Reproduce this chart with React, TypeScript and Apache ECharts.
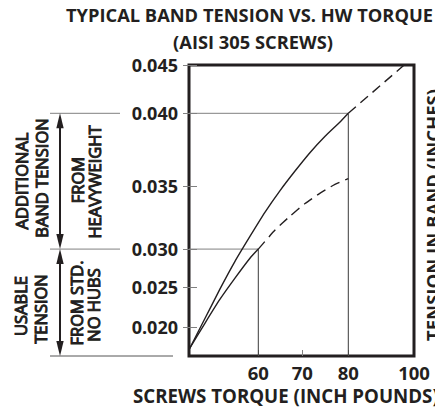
import React, { useEffect, useRef } from "react";
import * as echarts from "echarts";

// ---------- data ----------
const xTicks = [60, 70, 80, 100];
const xTickLabels = ["60", "70", "80", "100"];
const xSmallTicks = [60, 70, 80];
const yTicks = [0.02, 0.025, 0.03, 0.035, 0.04, 0.045];
const yTickLabels = ["0.020", "0.025", "0.030", "0.035", "0.040", "0.045"];
const xOrigin = 44.25;
const yOrigin = 0.01635;

// heavyweight band (upper curve)
const heavyX = [44.4, 47.9, 51.3, 54.7, 58.1, 61.5, 64.9, 68.3, 71.7, 74.9, 78.2, 80];
const heavyY = [0.0173, 0.0211, 0.0248, 0.0284, 0.031, 0.0329, 0.0346, 0.036, 0.0373, 0.0384, 0.0394, 0.04];
const heavyExtX = [80, 97];
const heavyExtY = [0.04, 0.045];
// standard, no hubs (lower curve)
const stdX = [44.4, 47.9, 51.3, 54.7, 58.1, 60];
const stdY = [0.0173, 0.0205, 0.0235, 0.0262, 0.0288, 0.03];
const stdExtX = [60, 63.8, 67.2, 70.6, 73.8, 77.1, 80];
const stdExtY = [0.03, 0.0315, 0.0326, 0.0336, 0.0344, 0.0351, 0.0355];

const usableTension = 0.03;
const heavyTension = 0.04;
const usableTorque = 60;
const heavyTorque = 80;

// ---------- layout: the drawn axes are not linear, breakpoints as plot fractions ----------
const X_BREAK_VALUES = [xOrigin, 60, 70, 80, 100];
const X_BREAK_POS = [0, 0.308, 0.5036, 0.708, 1];
const Y_BREAK_VALUES = [yOrigin, 0.02, 0.025, 0.03, 0.035, 0.04, 0.045];
const Y_BREAK_POS = [0, 0.0997, 0.2361, 0.3674, 0.5849, 0.834, 1];

function piece(v: number, vals: number[], pos: number[]) {
  const n = vals.length;
  let i = 0;
  while (i < n - 2 && v > vals[i + 1]) i++;
  const t = (v - vals[i]) / (vals[i + 1] - vals[i]);
  return pos[i] + t * (pos[i + 1] - pos[i]);
}
const sx = (v: number) => piece(v, X_BREAK_VALUES, X_BREAK_POS);
const sy = (v: number) => piece(v, Y_BREAK_VALUES, Y_BREAK_POS);
const pts = (xs: number[], ys: number[]) => xs.map((x, i) => [sx(x), sy(ys[i])]);

const INK = "#231f20";
const FONT = "'Open Sans', 'Noto Sans', sans-serif";

function labelFor(val: number, ticks: number[], labels: string[], f: (v: number) => number) {
  const i = ticks.findIndex((t) => Math.abs(f(t) - val) < 1e-6);
  return i >= 0 ? labels[i] : "";
}

export default function App() {
  const ref = useRef<HTMLDivElement>(null);
  useEffect(() => {
    if (!ref.current) return;
    const chart = echarts.init(ref.current, null, { renderer: "svg" });
    const lineS = (data: number[][], color: string, width: number, type: any = "solid", smooth: any = false) => ({
      type: "line",
      data,
      showSymbol: false,
      symbol: "none",
      smooth,
      lineStyle: { color, width, type },
      silent: true,
    });
    chart.setOption({
      animation: false,
      grid: {
        left: 189,
        top: 65,
        width: 225,
        height: 291,
        show: true,
        borderColor: INK,
        borderWidth: 3,
        backgroundColor: "transparent",
      },
      xAxis: {
        type: "value",
        min: 0,
        max: 1,
        axisLine: { show: false },
        splitLine: { show: false },
        axisTick: {
          show: true,
          inside: true,
          length: 6,
          customValues: xSmallTicks.map(sx),
          lineStyle: { color: "#808080", width: 1 },
        },
        axisLabel: {
          customValues: xTicks.map(sx),
          formatter: (v: number) => labelFor(v, xTicks, xTickLabels, sx),
          margin: 7,
          color: INK,
          fontFamily: FONT,
          fontWeight: "bold",
          fontSize: 18.5,
          lineHeight: 18,
        },
      },
      yAxis: [
        {
          type: "value",
          position: "left",
          min: 0,
          max: 1,
          axisLine: { show: false },
          splitLine: { show: false },
          axisTick: {
            show: true,
            inside: false,
            length: 6,
            customValues: yTicks.map(sy),
            lineStyle: { color: "#808080", width: 1 },
          },
          axisLabel: {
            customValues: yTicks.map(sy),
            formatter: (v: number) => labelFor(v, yTicks, yTickLabels, sy),
            margin: 11,
            color: INK,
            fontFamily: FONT,
            fontWeight: "bold",
            fontSize: 18,
          },
        },
        {
          type: "value",
          position: "left",
          min: 0,
          max: 1,
          axisLine: { show: false },
          splitLine: { show: false },
          axisTick: {
            show: true,
            inside: true,
            length: 8,
            customValues: yTicks.map(sy),
            lineStyle: { color: "#808080", width: 1 },
          },
          axisLabel: { show: false },
        },
      ],
      series: [
        lineS(pts([xOrigin, heavyTorque], [heavyTension, heavyTension]), "#808080", 1),
        lineS(pts([xOrigin, usableTorque], [usableTension, usableTension]), "#808080", 1),
        lineS(pts([heavyTorque, heavyTorque], [heavyTension, yOrigin]), "#3a3a3a", 1),
        lineS(pts([usableTorque, usableTorque], [usableTension, yOrigin]), "#3a3a3a", 1),
        lineS(pts(heavyX, heavyY), INK, 1.4, "solid", 0.15),
        lineS(pts(heavyExtX, heavyExtY), INK, 1.4, [10, 6]),
        lineS(pts(stdX, stdY), INK, 1.4, "solid", 0.15),
        lineS(pts(stdExtX, stdExtY), INK, 1.4, [10, 6], 0.15),
      ],
    });

    const y40 = chart.convertToPixel({ gridIndex: 0 }, [sx(xOrigin), sy(heavyTension)])[1];
    const y30 = chart.convertToPixel({ gridIndex: 0 }, [sx(xOrigin), sy(usableTension)])[1];
    const yBot = chart.convertToPixel({ gridIndex: 0 }, [sx(xOrigin), sy(yOrigin)])[1];

    const ax = 60;
    const ah = 15;
    const aw = 3.7;
    const arrow = (ya: number, yb: number) => [
      { type: "line", shape: { x1: ax, y1: ya + 4, x2: ax, y2: yb - 4 }, style: { stroke: INK, lineWidth: 2 } },
      { type: "polygon", shape: { points: [[ax, ya], [ax - aw, ya + ah], [ax + aw, ya + ah]] }, style: { fill: INK } },
      { type: "polygon", shape: { points: [[ax, yb], [ax - aw, yb - ah], [ax + aw, yb - ah]] }, style: { fill: INK } },
    ];
    const vtext = (text: string, x: number, y: number, bold = false, size = 16.5) => ({
      type: "text",
      x,
      y,
      rotation: Math.PI / 2,
      style: {
        text,
        fill: INK,
        font: `${bold ? "bold" : "normal"} ${size}px ${FONT}`,
        textAlign: "center",
        textVerticalAlign: "middle",
        stroke: bold ? undefined : INK,
        lineWidth: bold ? 0 : 1,
      },
    });
    const htext = (text: string, x: number, y: number, align: string, size: number) => ({
      type: "text",
      x,
      y,
      style: {
        text,
        fill: INK,
        font: `bold ${size}px ${FONT}`,
        textAlign: align,
        textVerticalAlign: "middle",
      },
    });

    chart.setOption({
      graphic: [
        { type: "line", shape: { x1: 50, y1: y40, x2: 120, y2: y40 }, style: { stroke: "#808080", lineWidth: 1 } },
        { type: "line", shape: { x1: 50, y1: y30, x2: 120, y2: y30 }, style: { stroke: "#808080", lineWidth: 1 } },
        { type: "line", shape: { x1: 50, y1: yBot, x2: 173, y2: yBot }, style: { stroke: "#555", lineWidth: 1 } },
        ...arrow(y40, y30),
        ...arrow(y30, yBot),
        vtext("ADDITIONAL", 21, 181),
        vtext("BAND TENSION", 41, 178),
        vtext("FROM", 77.5, 180),
        vtext("HEAVYWEIGHT", 94, 182),
        vtext("USABLE", 20, 306),
        vtext("TENSION", 40, 309),
        vtext("FROM STD.", 76, 303),
        vtext("NO HUBS", 93, 305),
        vtext("TENSION IN BAND (INCHES)", 432, 215, true, 18.5),
        htext("TYPICAL BAND TENSION VS. HW TORQUE", 66, 14, "left", 18.3),
        htext("(AISI 305 SCREWS)", 253, 41, "center", 18.3),
        htext("SCREWS TORQUE (INCH POUNDS)", 133, 395, "left", 18.7),
      ],
    });

    return () => chart.dispose();
  }, []);
  return (
    <div
      ref={ref}
      style={{ position: "absolute", left: 0, top: 0, width: 435, height: 410, background: "#fff" }}
    />
  );
}
